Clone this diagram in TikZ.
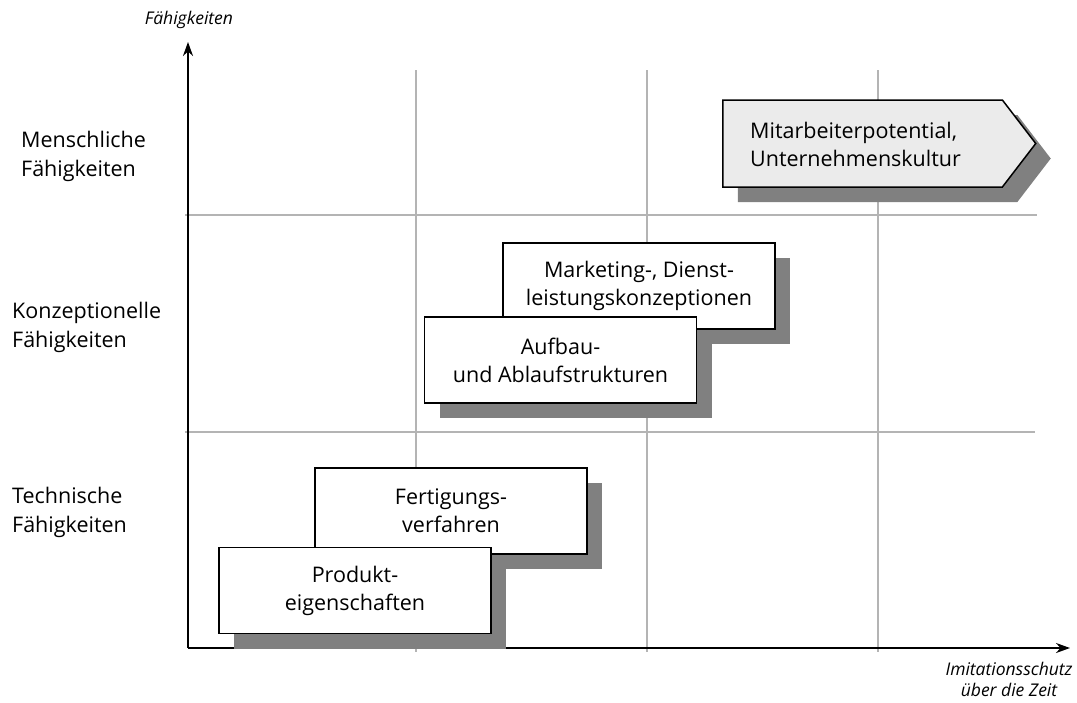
\documentclass[tikz,border=0pt]{standalone}
\usepackage{fontspec}
\setmainfont{Open Sans}
\usetikzlibrary{shadows,shapes.symbols,arrows.meta}
\definecolor{gridgray}{HTML}{B4B4B4}
\definecolor{shadegray}{HTML}{808080}
\definecolor{tagfill}{HTML}{EBEBEB}
\tikzset{
  gridline/.style={draw=gridgray, line width=2pt},
  axis/.style={draw=black, line width=2pt, -{Stealth[length=14pt,width=10pt]}},
  boxshadow/.style={drop shadow={shadow xshift=15pt, shadow yshift=-15pt, fill=shadegray, opacity=1}},
  boxfont/.style={font=\fontsize{21.5pt}{28pt}\selectfont},
  skillbox/.style={draw=black, line width=1.5pt, fill=white, minimum width=272pt, minimum height=86pt,
    inner sep=0pt, align=center, boxfont, boxshadow},
  rowlabel/.style={anchor=north west, align=left, inner sep=0pt, font=\fontsize{21.5pt}{29pt}\selectfont},
  axislabel/.style={align=center, inner sep=0pt, font=\fontsize{17.5pt}{21pt}\selectfont\itshape},
}
\begin{document}
\begin{tikzpicture}[x=1pt, y=-1pt]
\useasboundingbox (0,0) rectangle (1077,702);

% grid
\foreach \gx in {416,647,878} \draw[gridline] (\gx,70) -- (\gx,652);
\draw[gridline] (185,215) -- (1037,215);
\draw[gridline] (185,432) -- (1035,432);

% axes
\coordinate (origin) at (188,648);
\coordinate (ytip) at (188,42);
\coordinate (xtip) at (1070,648);
\draw[axis] (origin) -- (ytip);
\draw[axis] (origin) -- (xtip);

\node[axislabel] (ylab) at (189,20) {Fähigkeiten};
\node[axislabel] (xlab) at (1009,679) {Imitationsschutz\\über die Zeit};

% row labels
\node[rowlabel] (lm) at (21,131) {Menschliche\\Fähigkeiten};
\node[rowlabel] (lk) at (12,302) {Konzeptionelle\\Fähigkeiten};
\node[rowlabel] (lt) at (12,487) {Technische\\Fähigkeiten};

% capability boxes
\node[signal, signal to=east, signal pointer angle=105, draw=black, line width=1.5pt, fill=tagfill,
  minimum width=313pt, minimum height=87pt, inner sep=0pt, anchor=west, boxshadow] (mit) at (722,143.5) {};
\node[anchor=west, align=left, inner sep=0pt, boxfont] (mittext) at (750,144)
  {Mitarbeiterpotential,\\Unternehmenskultur};

\node[skillbox] (mkt) at (639,286) {Marketing-, Dienst-\\leistungskonzeptionen};
\node[skillbox] (auf) at (560.5,360) {Aufbau-\\und Ablaufstrukturen};
\node[skillbox] (fer) at (451,511) {Fertigungs-\\verfahren};
\node[skillbox] (pro) at (355,590.5) {Produkt-\\eigenschaften};
\end{tikzpicture}
\end{document}
